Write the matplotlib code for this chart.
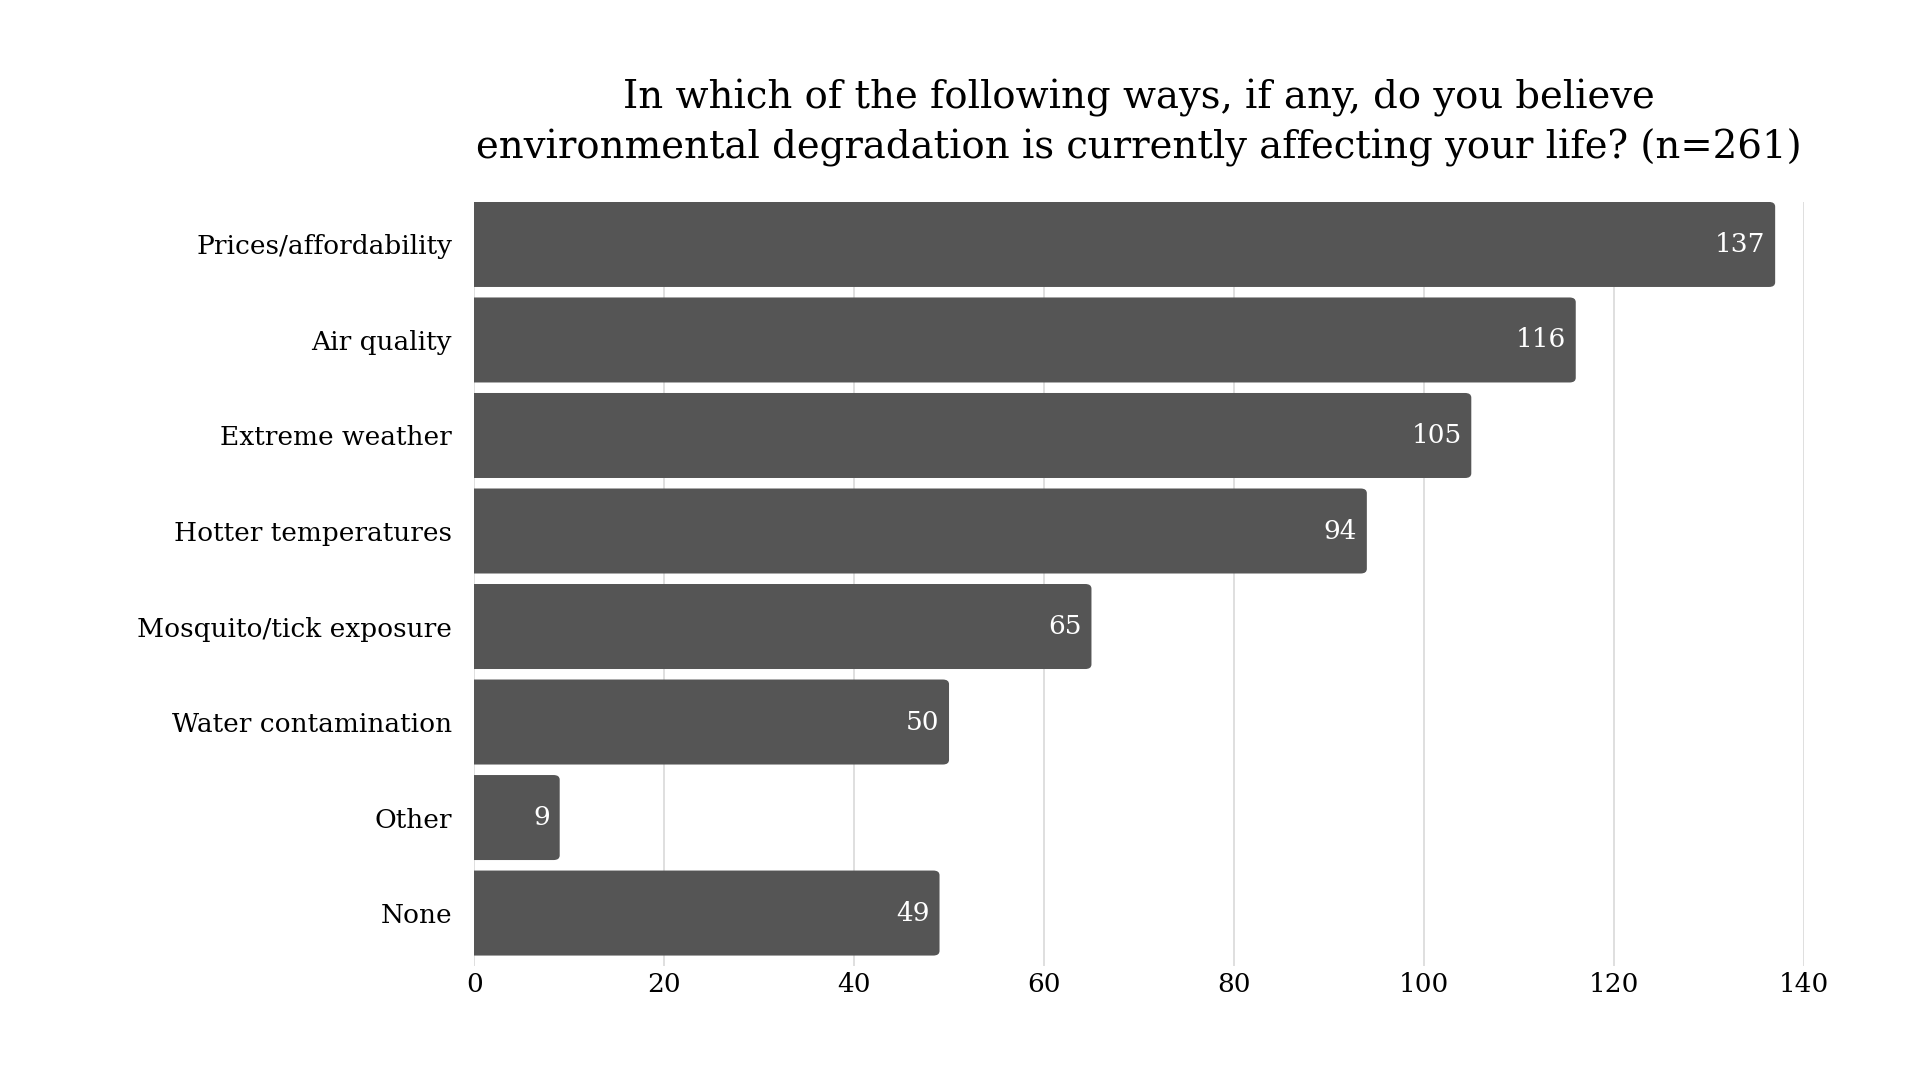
import matplotlib
matplotlib.use("Agg")
import matplotlib.pyplot as plt
from matplotlib.patches import FancyBboxPatch

categories = ["Prices/affordability", "Air quality", "Extreme weather", "Hotter temperatures",
              "Mosquito/tick exposure", "Water contamination", "Other", "None"]
values = [137, 116, 105, 94, 65, 50, 9, 49]
xticks = [0, 20, 40, 60, 80, 100, 120, 140]
title = "In which of the following ways, if any, do you believe\nenvironmental degradation is currently affecting your life? (n=261)"

plt.rcParams['font.family'] = ['DejaVu Serif']

fig = plt.figure(figsize=(19.2, 10.8), dpi=100)
ax = fig.add_axes([0.247, 0.1055, 0.6924, 0.7075])

bar_color = "#555555"
bars = ax.barh(range(len(categories)), values, height=0.89, color=bar_color, zorder=3)

ax.set_xlim(0, 140)
ax.set_ylim(len(categories) - 0.5 + 0.055, -0.5 + 0.055)

# rounded-corner versions of the bars
r = 0.65
for b in bars:
    b.set_visible(False)
    p = FancyBboxPatch((b.get_x() - r, b.get_y()), b.get_width() + r, b.get_height(),
                       boxstyle=f"round,pad=0,rounding_size={r}", mutation_aspect=0.075,
                       facecolor=bar_color, edgecolor='none', zorder=3)
    ax.add_patch(p)

ax.set_xticks(xticks)
ax.set_xticklabels([str(t) for t in xticks], fontsize=19)
ax.set_yticks(range(len(categories)))
ax.set_yticklabels(categories, fontsize=19)
ax.tick_params(axis='both', length=0)
ax.tick_params(axis='x', pad=4.5)
ax.tick_params(axis='y', pad=16)
ax.xaxis.grid(True, color="#d9d9d9", linewidth=1.2, zorder=0)
for s in ax.spines.values():
    s.set_visible(False)

for b, v in zip(bars, values):
    ax.text(b.get_width() - 1.0, b.get_y() + b.get_height() / 2, str(v),
            ha='right', va='center', color='white', fontsize=19, zorder=4)

fig.text(0.593, 0.886, title, ha='center', va='center', fontsize=27.8, linespacing=1.38)

fig.savefig("out.png", dpi=100, facecolor="white")
